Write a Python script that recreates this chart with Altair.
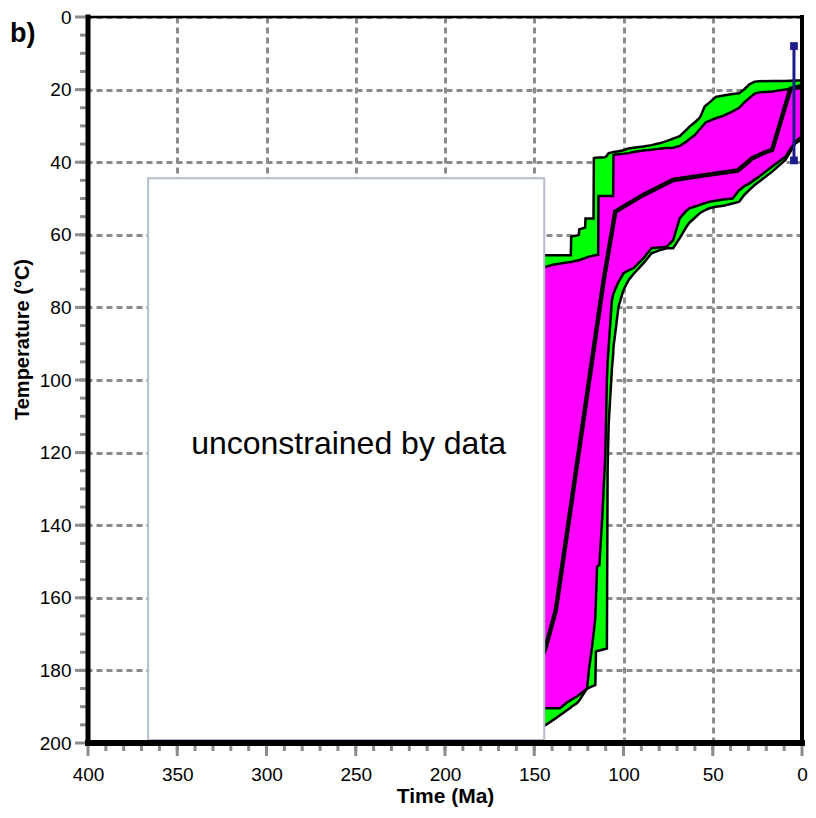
import altair as alt
import pandas as pd

# ---------------- data ----------------
env_t = [146, 143.5, 138.9, 136, 135.2, 131.5, 129.5, 129.3, 128.7, 126, 125, 124.8,
         121.5, 121.3, 120.4, 119.4, 117.6, 116.8, 116.6, 115.8, 115.4, 114.8, 114.2,
         114.0, 113.5, 112, 110.2, 109.3, 108.9, 108.3, 106.5, 105.8, 105.6, 104.6,
         102.8, 100, 97.2, 94.4, 88.9, 84.3, 80, 75.9, 72.2, 68.5, 65, 63, 60, 57.4,
         56.5, 54.6, 53.9, 51.9, 48.3, 44, 38.9, 35.2, 32.3, 29.6, 26.5, 24.1, 16.7,
         9.3, 3.7, 1.7, 0]

green_top = [65.6, 65.6, 65.6, 65.6, 65.6, 65.6, 65.6, 60.5, 60.4, 60.2, 60.0, 58.5,
             58.0, 55.5, 55.5, 55.5, 55.5, 55.5, 38.9, 38.8, 38.8, 38.8, 38.7,
             38.7, 38.7, 38.7, 38.6, 38.2, 37.9, 37.5, 37.3, 37.2, 37.2, 37.1,
             37.0, 36.7, 36.2, 36.0, 35.7, 35.3, 34.8, 34.2, 33.5, 32.8, 31.2, 30.2, 29.0, 27.8,
             27.0, 24.7, 24.4, 23.6, 22.0, 21.6, 21.2, 21.0, 19.9, 18.6, 17.8, 17.7, 17.6,
             17.6, 17.5, 17.5, 17.5]

magenta_top = [68.8, 68.8, 68.2, 68.0, 67.9, 67.6, 67.5, 67.5, 67.4, 67.1, 67.0, 67.0,
               66.4, 66.4, 66.2, 66.0, 65.8, 65.7, 65.7, 65.6, 65.6, 65.5, 65.5,
               49.3, 49.3, 49.3, 49.3, 49.3, 49.3, 49.3, 49.3, 49.3, 38.0, 37.9,
               37.8, 37.7, 37.5, 37.2, 36.8, 36.6, 36.3, 36.1, 36.0, 35.5, 34.4, 33.6, 32.5, 31.0,
               30.5, 29.4, 29.0, 28.6, 27.9, 27.2, 26.0, 25.0, 23.5, 22.4, 21.1, 20.8, 20.5,
               20.0, 19.7, 19.6, 19.5]

magenta_bottom = [190.4, 190.4, 190.4, 190.4, 190.3, 188.8, 188.2, 188.1, 187.9, 187.2, 186.8, 186.7,
                  185.5, 185.4, 185.0, 179.9, 173.5, 170.0, 169.3, 165.5, 160.0, 151.4, 151.2,
                  151.1, 151.0, 138.6, 121.0, 100.0, 95.0, 90.8, 78.0, 76.5, 76.2, 75.0,
                  73.0, 70.6, 69.8, 69.2, 66.5, 63.7, 63.5, 63.3, 61.5, 55.5, 53.5, 52.7, 52.2, 51.8,
                  51.6, 51.3, 51.2, 50.9, 50.6, 50.3, 50.0, 47.7, 46.6, 45.9, 44.8, 44.0, 41.2,
                  38.5, 34.3, 33.5, 33.0]

green_bottom = [195.6, 195.0, 193.5, 192.5, 192.2, 190.9, 190.2, 190.1, 189.9, 189.0, 188.4, 188.3,
                185.8, 185.6, 185.0, 184.8, 184.4, 184.2, 184.2, 184.0, 174.8, 174.7, 174.6,
                174.6, 174.5, 174.3, 174.1, 174.0, 124.8, 112.0, 97.0, 93.0, 90.8, 87.0,
                79.8, 75.2, 72.5, 70.8, 67.9, 65.1, 64.3, 63.7, 63.7, 60.9, 58.0, 56.6, 55.3, 54.1,
                53.8, 53.3, 53.1, 52.7, 52.3, 52.0, 51.4, 50.9, 49.0, 47.7, 46.3, 45.4, 42.6,
                39.4, 34.8, 34.2, 34.0]

best_t = [147, 143.5, 137.9, 111.1, 104.6, 88.9, 72.2, 53.7, 36.0, 27.8, 22.2, 16.7, 6.5, 0]
best_T = [178, 173.5, 163.4, 72.5, 53.6, 49.0, 44.9, 43.5, 42.3, 38.9, 37.6, 36.6, 19.8, 19.0]

constraint_t = [4.5]
constraint_lo = [8.0]
constraint_hi = [39.5]

box_t = [366.3, 144.4]
box_T = [44.4, 199.2]
note_t = [254]
note_T = [117.5]
note_text = ["unconstrained by data"]
panel_label = ["b)"]

x_major = [400, 350, 300, 250, 200, 150, 100, 50, 0]
x_minor = list(range(10, 400, 10))
y_major = [0, 20, 40, 60, 80, 100, 120, 140, 160, 180, 200]
y_minor = list(range(5, 200, 5))

# ---------------- tables ----------------
T_MAX = y_major[-1]
T_MIN = y_major[0]
t_MAX = x_major[0]
t_MIN = x_major[-1]

env = pd.DataFrame({"t": env_t, "gtop": green_top, "mtop": magenta_top,
                    "mbot": magenta_bottom, "gbot": green_bottom})
best = pd.DataFrame({"t": best_t, "T": best_T})
cons = pd.DataFrame({"t": constraint_t, "lo": constraint_lo, "hi": constraint_hi})
box = pd.DataFrame({"t1": [box_t[0]], "t2": [box_t[1]], "T1": [box_T[0]], "T2": [box_T[1]]})
note = pd.DataFrame({"t": note_t, "T": note_T, "label": note_text})
xmaj = pd.DataFrame({"t": x_major, "T": [T_MAX] * len(x_major)})
xmin = pd.DataFrame({"t": x_minor, "T": [T_MAX] * len(x_minor)})
ymaj = pd.DataFrame({"T": y_major, "t": [t_MAX] * len(y_major)})
ymin = pd.DataFrame({"T": y_minor, "t": [t_MAX] * len(y_minor)})
frame = pd.DataFrame({"t0": [t_MAX], "t1": [t_MIN], "T0": [T_MIN], "T1": [T_MAX]})
label_df = pd.DataFrame({"label": panel_label})

FONT = "Liberation Sans"
GRID = "#8c8c8c"
xs = alt.Scale(domain=[0, 400], reverse=True, nice=False, zero=False)
ys = alt.Scale(domain=[0, 200], reverse=True, nice=False, zero=False)

x_axis = alt.Axis(values=x_major, grid=True, gridDash=[6, 4], gridColor=GRID, gridWidth=3,
                  ticks=False, domain=False, labelFont=FONT, labelFontSize=19,
                  labelColor="black", labelPadding=22, labelFlush=False, labelOverlap=False,
                  format="d", title="Time (Ma)", titleFont=FONT, titleFontSize=21,
                  titleFontWeight="bold", titleColor="black", titleY=59,
                  titleBaseline="alphabetic")
y_axis = alt.Axis(values=y_major, grid=True, gridDash=[6, 4], gridColor=GRID, gridWidth=3,
                  ticks=False, domain=False, labelFont=FONT, labelFontSize=19,
                  labelColor="black", labelPadding=17, labelFlush=False, labelOverlap=False,
                  format="d", title="Temperature (°C)", titleFont=FONT, titleFontSize=20,
                  titleFontWeight="bold", titleColor="black", titleAngle=270,
                  titleX=-66, titleY=322, titleAlign="center", titleBaseline="middle")


def X(f):
    return alt.X(f, type="quantitative", scale=xs, axis=x_axis)


def Y(f):
    return alt.Y(f, type="quantitative", scale=ys, axis=y_axis)


green = alt.Chart(env).mark_area(color="#00ff00", opacity=1).encode(
    x=X("t"), y=Y("gtop"), y2="gbot")

magenta = alt.Chart(env).mark_area(color="#ff00ff", opacity=1).encode(
    x=X("t"), y=Y("mtop"), y2="mbot")

edges = alt.Chart(env).transform_fold(
    ["gtop", "mtop", "mbot", "gbot"], as_=["edge", "temp"]
).mark_line(color="black", strokeWidth=2.5).encode(
    x=X("t"), y=Y("temp"), detail="edge:N")

best_line = alt.Chart(best).mark_line(color="black", strokeWidth=4.5).encode(
    x=X("t"), y=Y("T"))

NAVY = "#1c1c8c"
cons_rule = alt.Chart(cons).mark_rule(color=NAVY, strokeWidth=3).encode(
    x=X("t"), y=Y("lo"), y2="hi")
cons_caps = alt.Chart(cons).transform_fold(["lo", "hi"], as_=["end", "temp"]).mark_square(
    color=NAVY, size=60, opacity=1, filled=True).encode(x=X("t"), y=Y("temp"))

box_rect = alt.Chart(box).mark_rect(fill="white", stroke="#b5bccb", strokeWidth=2).encode(
    x=X("t1"), x2="t2", y=Y("T1"), y2="T2")
box_text = alt.Chart(note).mark_text(font=FONT, fontSize=32, color="black").encode(
    x=X("t"), y=Y("T"), text="label:N")

TICK = "#8c8c8c"
xt_major = alt.Chart(xmaj).mark_rule(color=TICK, strokeWidth=3, yOffset=3, y2Offset=13).encode(
    x=X("t"), y=Y("T"), y2="T")
xt_minor = alt.Chart(xmin).mark_rule(color=TICK, strokeWidth=3, yOffset=3, y2Offset=8).encode(
    x=X("t"), y=Y("T"), y2="T")
yt_major = alt.Chart(ymaj).mark_rule(color=TICK, strokeWidth=3, xOffset=-13, x2Offset=-2).encode(
    y=Y("T"), x=X("t"), x2="t")
yt_minor = alt.Chart(ymin).mark_rule(color=TICK, strokeWidth=3, xOffset=-8, x2Offset=-2).encode(
    y=Y("T"), x=X("t"), x2="t")

frame_top = alt.Chart(frame).mark_rule(color="black", strokeWidth=2.5, strokeCap="square").encode(
    x=X("t0"), x2="t1", y=Y("T0"))
frame_right = alt.Chart(frame).mark_rule(color="black", strokeWidth=4, strokeCap="square").encode(
    x=X("t1"), y=Y("T0"), y2="T1")
frame_left = alt.Chart(frame).mark_rule(color="black", strokeWidth=5, strokeCap="square").encode(
    x=X("t0"), y=Y("T0"), y2="T1")
frame_bottom = alt.Chart(frame).mark_rule(color="black", strokeWidth=6, strokeCap="square").encode(
    x=X("t0"), x2="t1", y=Y("T1"))

panel = alt.Chart(label_df).mark_text(font=FONT, fontSize=27, fontWeight="bold", color="black",
                                      align="left", baseline="alphabetic").encode(
    x=alt.value(-78), y=alt.value(25), text="label:N")

chart = alt.layer(
    green, magenta, edges, best_line, cons_rule, cons_caps, box_rect, box_text,
    xt_major, xt_minor, yt_major, yt_minor,
    frame_top, frame_right, frame_left, frame_bottom, panel
).properties(
    width=714, height=726,
    autosize=alt.AutoSizeParams(type="none"),
    padding={"left": 80, "top": 9, "right": 6, "bottom": 64},
).configure_view(stroke=None)

chart.save("out.html", embed_options={"renderer": "svg", "actions": False})
